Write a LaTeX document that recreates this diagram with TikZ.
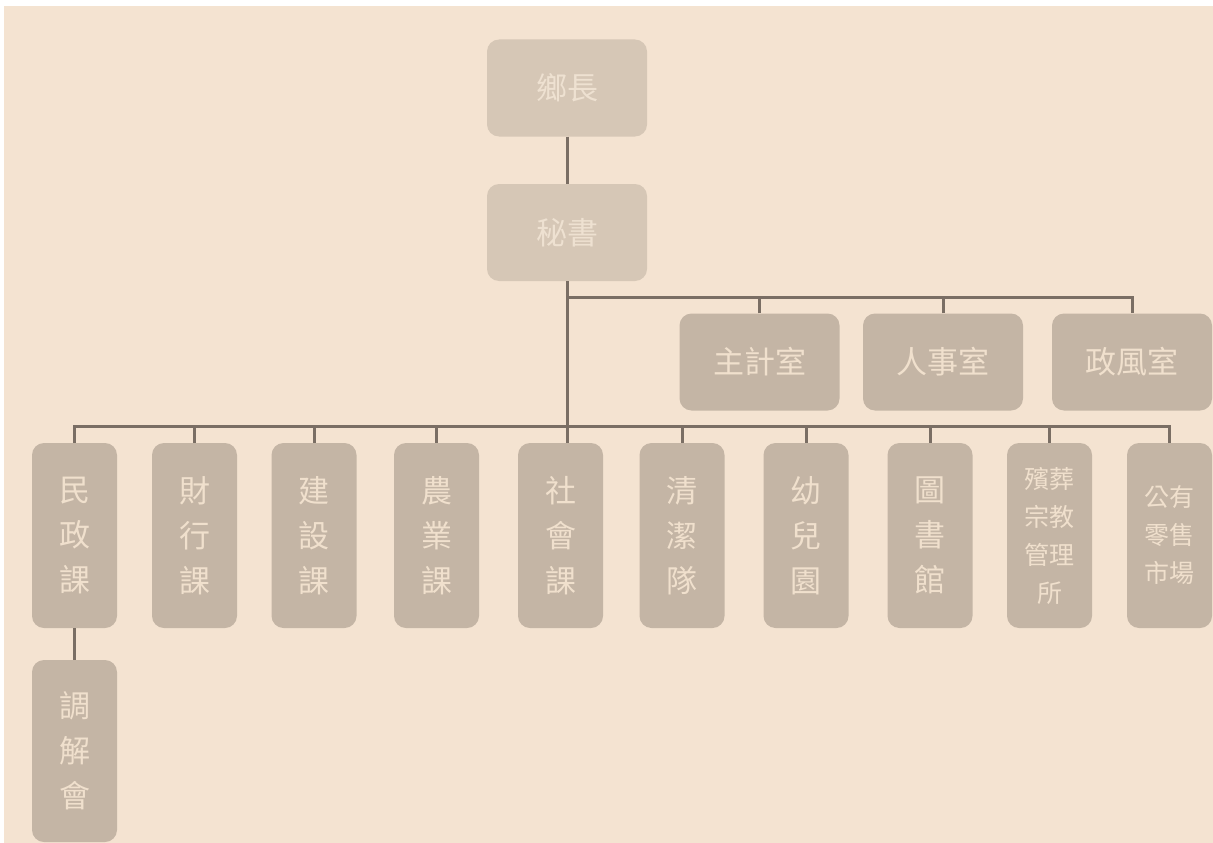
\documentclass[tikz,border=0pt]{standalone}
\usepackage{fontspec}
\newfontfamily\cjk{Noto Sans CJK TC}
\definecolor{bgc}{HTML}{F4E3D1}
\definecolor{boxc}{HTML}{C4B5A5}
\definecolor{boxl}{HTML}{D6C7B6}
\definecolor{txtc}{HTML}{F0E0CD}
\definecolor{txtl}{HTML}{EEE1D1}
\definecolor{linec}{HTML}{7A6E64}
\begin{document}
\begin{tikzpicture}[x=1pt,y=-1pt,
 box/.style={fill=boxc, rounded corners=12pt, inner sep=0pt, text=txtc, align=center, font=\cjk\fontsize{31}{45}\selectfont},
 vbox/.style={box, minimum width=85pt, minimum height=185pt},
 hbox/.style={box, minimum width=160pt, minimum height=97pt},
 topbox/.style={hbox, fill=boxl, text=txtl},
 smalltxt/.style={font=\cjk\fontsize{25}{38}\selectfont},
 conn/.style={draw=linec, line width=3pt}]
\useasboundingbox (0,0) rectangle (1213,843);
\fill[white] (-5,-5) rectangle (1220,850);
\fill[bgc] (4,6) rectangle (1220,850);

\node[topbox] (xz) at (567,88) {鄉長};
\node[topbox] (ms) at (567,232.5) {秘書};
\node[hbox] (zj) at (759.5,362) {主計室};
\node[hbox] (rs) at (943,362) {人事室};
\node[hbox] (zf) at (1132,362) {政風室};

\node[vbox] (mz) at (74.5,535.5) {民\\政\\課};
\node[vbox] (cx) at (194.5,535.5) {財\\行\\課};
\node[vbox] (js) at (314,535.5) {建\\設\\課};
\node[vbox] (ny) at (436.5,535.5) {農\\業\\課};
\node[vbox] (sh) at (560.5,535.5) {社\\會\\課};
\node[vbox] (qj) at (682,535.5) {清\\潔\\隊};
\node[vbox] (ye) at (806,535.5) {幼\\兒\\園};
\node[vbox] (ts) at (930,535.5) {圖\\書\\館};
\node[vbox,smalltxt] (bz) at (1049.5,535.5) {殯葬\\宗教\\管理\\所};
\node[vbox,smalltxt] (gy) at (1169.5,535.5) {公有\\零售\\市場};
\node[vbox, minimum height=182pt] (tj) at (74.5,751) {調\\解\\會};

\coordinate (busA) at (567,297);
\coordinate (busB) at (567,426);

\draw[conn] (xz) -- (ms);
\draw[conn] (ms.south) -- (ms.south |- sh.north);
\draw[conn] (busA) -| (zf.north);
\draw[conn] (zj.north) -- (zj.north |- busA);
\draw[conn] (rs.north) -- (rs.north |- busA);
\draw[conn] (mz.north) |- (busB) -| (gy.north);
\foreach \n in {cx,js,ny,qj,ye,ts,bz}
  \draw[conn] (\n.north) -- (\n.north |- busB);
\draw[conn] (mz) -- (tj);
\end{tikzpicture}
\end{document}
